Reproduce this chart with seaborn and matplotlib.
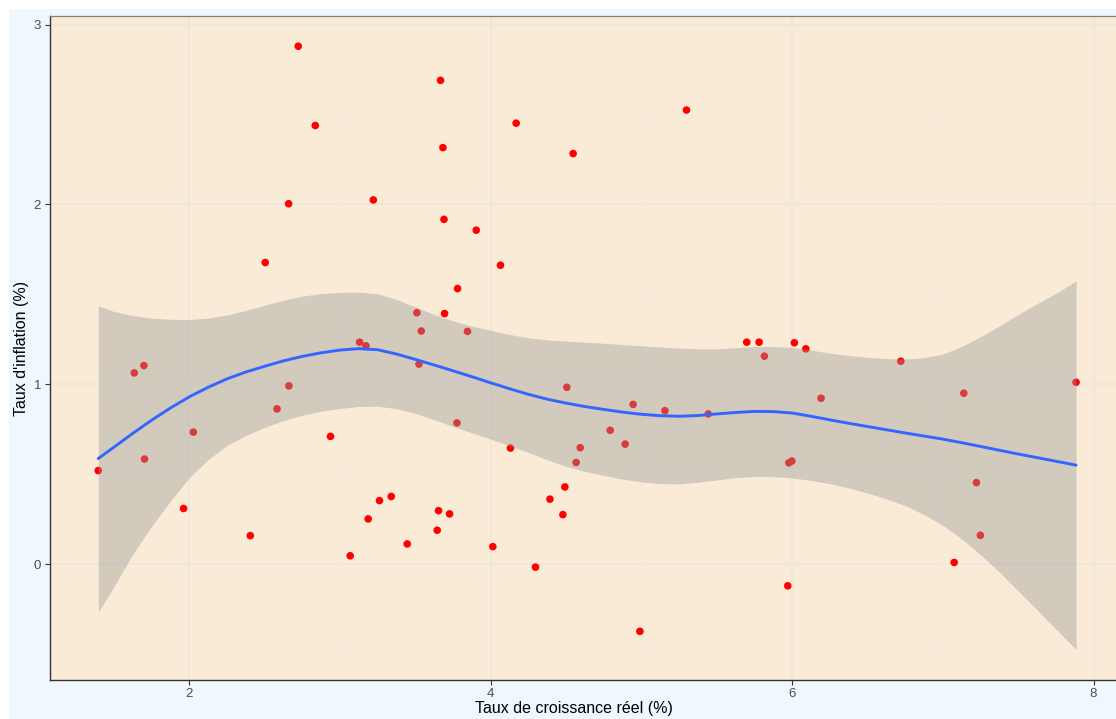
import numpy as np
import pandas as pd
import matplotlib
matplotlib.use("Agg")
import matplotlib.pyplot as plt
import seaborn as sns

# ---- data: scatter points ----
growth = [1.396, 1.635, 1.699, 1.703, 1.962, 2.027, 2.405, 2.504, 2.582, 2.659,
          2.661, 2.723, 2.836, 2.937, 3.068, 3.130, 3.172, 3.187, 3.221, 3.262,
          3.340, 3.446, 3.510, 3.524, 3.539, 3.645, 3.654, 3.667, 3.683, 3.690,
          3.694, 3.727, 3.780, 3.776, 3.846, 3.904, 4.014, 4.065, 4.131, 4.169,
          4.297, 4.393, 4.479, 4.492, 4.505, 4.547, 4.567, 4.594, 4.793, 4.892,
          4.945, 4.990, 5.156, 5.299, 5.443, 5.699, 5.781, 5.816, 5.971, 5.978,
          5.998, 6.015, 6.091, 6.192, 6.721, 7.075, 7.139, 7.223, 7.249, 7.884]
inflation = [0.520, 1.063, 1.104, 0.584, 0.309, 0.734, 0.158, 1.677, 0.863, 2.004,
             0.991, 2.880, 2.439, 0.710, 0.046, 1.234, 1.214, 0.251, 2.025, 0.353,
             0.376, 0.112, 1.398, 1.112, 1.296, 0.188, 0.297, 2.690, 2.316, 1.917,
             1.393, 0.279, 1.532, 0.785, 1.294, 1.857, 0.097, 1.662, 0.645, 2.452,
             -0.017, 0.361, 0.275, 0.429, 0.983, 2.283, 0.565, 0.647, 0.744, 0.667,
             0.888, -0.374, 0.853, 2.525, 0.835, 1.234, 1.234, 1.156, -0.121, 0.563,
             0.573, 1.231, 1.197, 0.922, 1.128, 0.009, 0.950, 0.453, 0.160, 1.011]

# ---- data: smoothed trend (loess) and its confidence band ----
smooth_x = [1.396, 1.5, 1.625, 1.75, 1.875, 2.0, 2.125, 2.25, 2.375, 2.5, 2.625,
            2.75, 2.875, 3.0, 3.125, 3.25, 3.375, 3.5, 3.625, 3.75, 3.875, 4.0,
            4.125, 4.25, 4.375, 4.5, 4.625, 4.75, 4.875, 5.0, 5.125, 5.25, 5.375,
            5.5, 5.625, 5.75, 5.875, 6.0, 6.125, 6.25, 6.375, 6.5, 6.625, 6.75,
            6.875, 7.0, 7.125, 7.25, 7.375, 7.5, 7.625, 7.75, 7.884]
smooth_fit = [0.587, 0.650, 0.727, 0.800, 0.868, 0.930, 0.983, 1.030, 1.068, 1.100,
              1.130, 1.155, 1.175, 1.190, 1.198, 1.192, 1.168, 1.138, 1.107, 1.075,
              1.042, 1.008, 0.975, 0.944, 0.917, 0.895, 0.876, 0.860, 0.845, 0.833,
              0.825, 0.822, 0.826, 0.835, 0.843, 0.849, 0.848, 0.840, 0.822, 0.802,
              0.783, 0.765, 0.747, 0.729, 0.712, 0.695, 0.675, 0.654, 0.633, 0.612,
              0.592, 0.572, 0.550]
smooth_hi = [1.437, 1.405, 1.382, 1.368, 1.361, 1.360, 1.368, 1.385, 1.410, 1.440,
             1.467, 1.490, 1.504, 1.511, 1.512, 1.503, 1.472, 1.430, 1.388, 1.352,
             1.323, 1.300, 1.277, 1.258, 1.247, 1.240, 1.234, 1.228, 1.221, 1.214,
             1.207, 1.201, 1.197, 1.197, 1.203, 1.210, 1.210, 1.204, 1.190, 1.173,
             1.160, 1.150, 1.143, 1.140, 1.148, 1.168, 1.210, 1.264, 1.325, 1.388,
             1.448, 1.505, 1.575]
smooth_lo = [-0.268, -0.125, 0.055, 0.210, 0.350, 0.480, 0.580, 0.660, 0.715, 0.760,
             0.798, 0.828, 0.850, 0.865, 0.876, 0.878, 0.864, 0.838, 0.803, 0.765,
             0.730, 0.695, 0.658, 0.620, 0.580, 0.543, 0.515, 0.493, 0.472, 0.457,
             0.447, 0.446, 0.455, 0.468, 0.480, 0.487, 0.486, 0.479, 0.465, 0.447,
             0.423, 0.395, 0.363, 0.325, 0.275, 0.215, 0.140, 0.052, -0.045, -0.150,
             -0.255, -0.362, -0.476]

x_ticks = [2, 4, 6, 8]
y_ticks = [0, 1, 2, 3]

pts = pd.DataFrame({"growth": growth, "inflation": inflation})
smooth = pd.DataFrame({"x": smooth_x, "fit": smooth_fit, "lo": smooth_lo, "hi": smooth_hi})

sns.set_style("white")
plt.rcParams["font.family"] = ["Liberation Sans", "DejaVu Sans"]

fig = plt.figure(figsize=(11.16, 7.19), dpi=100, facecolor="white")
# light blue plot background (offset like the reference)
bg = plt.Rectangle((9 / 1116, 0), 1 - 9 / 1116, (719 - 9) / 719,
                   transform=fig.transFigure, facecolor="#F0F8FF",
                   edgecolor="none", zorder=-10)
fig.patches.append(bg)

ax = fig.add_axes([49.5 / 1116, (719 - 679.5) / 719, (1116 - 49.5) / 1116, (679.5 - 16) / 719])
ax.set_zorder(5)
ax.set_facecolor("#FAEBD7")

sns.scatterplot(data=pts, x="growth", y="inflation", ax=ax, color="#FF0000",
                s=30, edgecolor="none", linewidth=0, zorder=3, legend=False)
ax.fill_between(smooth["x"], smooth["lo"], smooth["hi"], color="#999999",
                alpha=0.4, linewidth=0, zorder=4)
sns.lineplot(data=smooth, x="x", y="fit", ax=ax, color="#3366FF", linewidth=2.1,
             zorder=5, legend=False)

ax.set_xlim(1.0725, 8.149)
ax.set_ylim(-0.642, 3.048)
ax.set_xticks(x_ticks)
ax.set_yticks(y_ticks)
ax.set_xticks([3, 5, 7], minor=True)
ax.set_yticks([-0.5, 0.5, 1.5, 2.5], minor=True)
ax.grid(True, which="major", color="#EBE7E1", linewidth=1.1, zorder=0)
ax.grid(True, which="minor", color="#EFE9E1", linewidth=0.6, zorder=0)
ax.set_axisbelow(True)

ax.tick_params(axis="both", which="major", length=3.5, width=0.8, color="#333333",
               labelsize=9.5, labelcolor="#4D4D4D", pad=2.5, direction="out",
               bottom=True, left=True)
ax.tick_params(axis="both", which="minor", length=0)

for side in ["left", "bottom"]:
    ax.spines[side].set_color("#333333")
    ax.spines[side].set_linewidth(1.0)
ax.spines["top"].set_color("#7F7F7F")
ax.spines["top"].set_linewidth(0.9)
ax.spines["right"].set_visible(False)

ax.set_xlabel("")
ax.set_ylabel("")
fig.text(574 / 1116, 1 - 708 / 719, "Taux de croissance réel (%)", ha="center",
         va="center", fontsize=11.5, color="black")
fig.text(22 / 1116, 1 - 348 / 719, "Taux d'inflation (%)", ha="center",
         va="center", rotation=90, fontsize=11.5, color="black")

fig.savefig("out.png", dpi=100, facecolor="white")
